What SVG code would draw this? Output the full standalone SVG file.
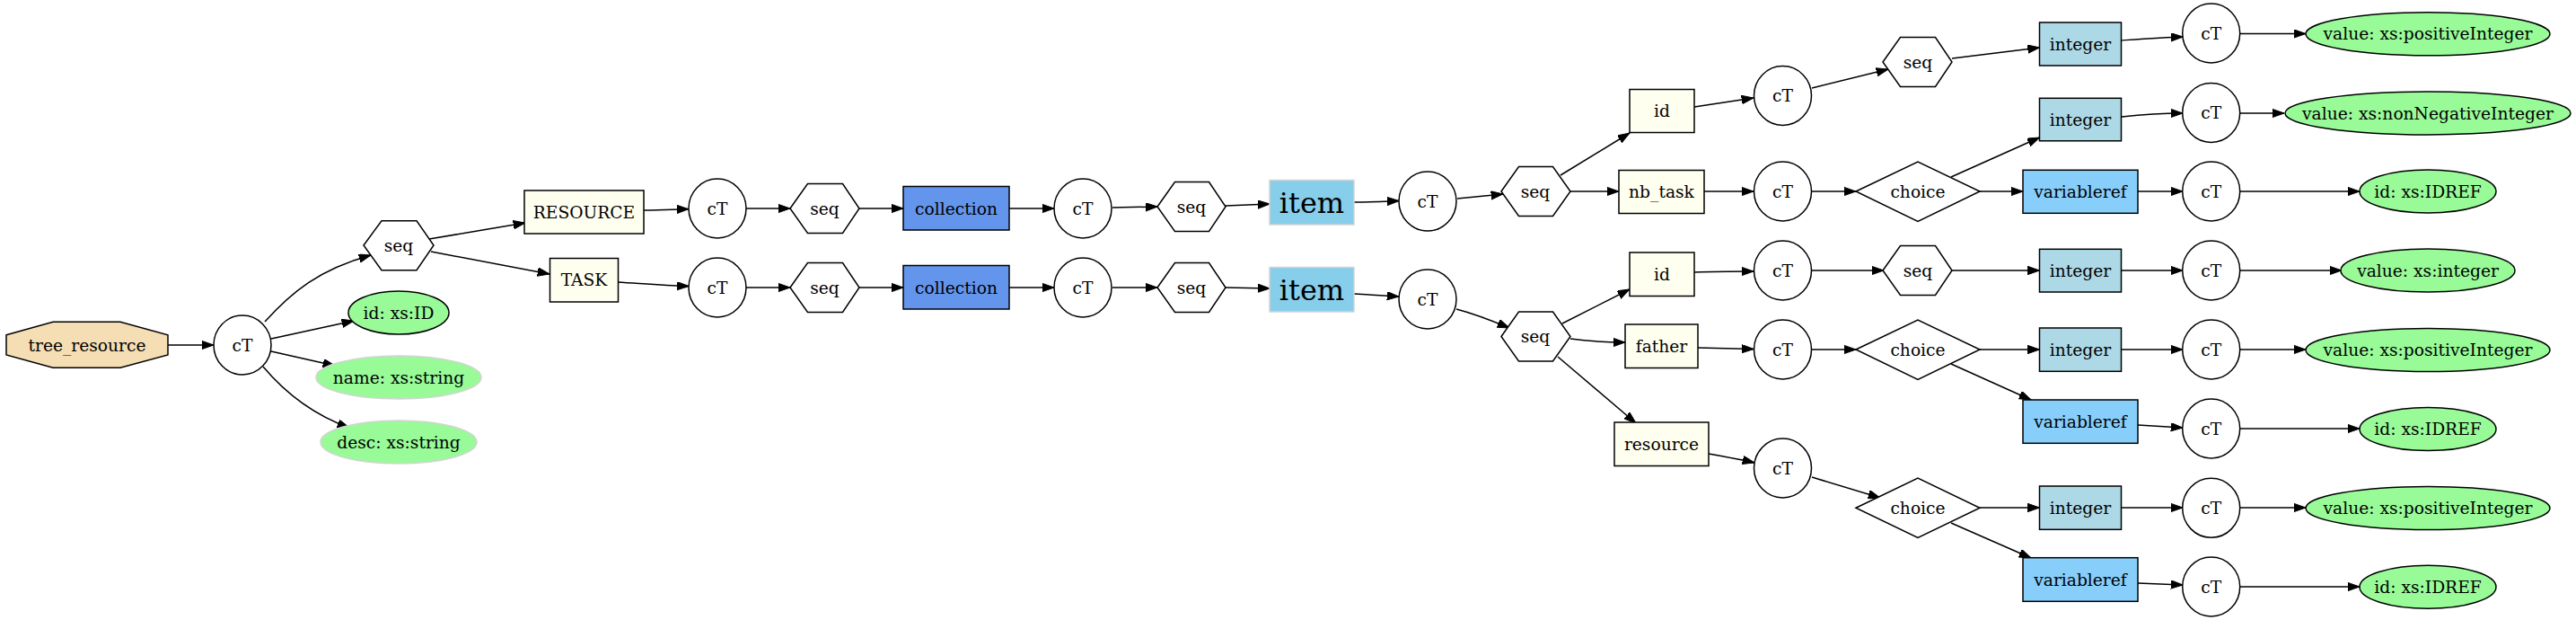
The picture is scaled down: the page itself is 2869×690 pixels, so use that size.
<svg xmlns="http://www.w3.org/2000/svg" width="2869" height="690" viewBox="0 0 2869 690">
<style>
text{font-family:"DejaVu Serif","Liberation Serif",serif;font-size:18.67px;text-anchor:middle;fill:#000}
.big{font-size:32px}
.n{stroke:#000;stroke-width:1.5}
.w{fill:#fff}
.wheat{fill:#f5deb3}
.ivory{fill:#fffff0}
.green{fill:#98fb98}
.greenl{fill:#98fb98;stroke:#d3d3d3;stroke-width:1.5}
.coll{fill:#6495ed}
.item{fill:#87ceeb;stroke:#d3d3d3;stroke-width:1.5}
.int{fill:#add8e6}
.vref{fill:#87cefa}
#edges path{fill:none;stroke:#000;stroke-width:1.5;marker-end:url(#arr)}
</style>
<defs>
<marker id="arr" markerUnits="userSpaceOnUse" markerWidth="14" markerHeight="10" refX="13.3" refY="4.7" orient="auto">
<path d="M0,0 L13.3,4.7 L0,9.4 z" fill="#000" stroke="#000" stroke-width="1"/>
</marker>
</defs>
<rect width="2869" height="690" fill="#fff"/>
<g id="edges">
<path d="M187,384 L238,384"/>
<path d="M295,358 C325,325 355,300 413,284"/>
<path d="M302,377 L394,357"/>
<path d="M302,391 L373,407"/>
<path d="M293,408 C320,440 350,462 389,476"/>
<path d="M478,266 L585,248"/>
<path d="M480,280 L612,305"/>
<path d="M717,234 C740,234 750,233 767,232.7"/>
<path d="M688,314 C720,316 745,318 767,318.5"/>
<path d="M831,232 L880,232"/>
<path d="M831,320 L880,320"/>
<path d="M957,232 L1006,232"/>
<path d="M957,320 L1006,320"/>
<path d="M1124,232 L1174,232"/>
<path d="M1124,320 L1174,320"/>
<path d="M1239,231 L1289,230"/>
<path d="M1239,320 L1289,320"/>
<path d="M1365,229 L1414,227"/>
<path d="M1365,320 L1414,321"/>
<path d="M1508,225 C1530,225 1545,224 1558,223.5"/>
<path d="M1508,327 L1558,330"/>
<path d="M1623,221 L1674,216"/>
<path d="M1738,195 L1815,148"/>
<path d="M1749,213 L1803,213"/>
<path d="M1887,119 L1953,109"/>
<path d="M1898,213 L1953,213"/>
<path d="M2018,98 L2103,77"/>
<path d="M2018,213 L2067,213"/>
<path d="M2174,65 L2271.5,53"/>
<path d="M2173,197 L2271.5,153"/>
<path d="M2205,213 L2253,213"/>
<path d="M2362,45 C2390,43 2410,41.5 2431,41"/>
<path d="M2363,130 C2390,127 2410,126 2431,126"/>
<path d="M2381,213 L2431,213"/>
<path d="M2495,37.5 L2568,37.5"/>
<path d="M2495,126 L2544,126"/>
<path d="M2495,213 L2628,213"/>
<path d="M1622,344 C1645,350 1662,357 1681,365"/>
<path d="M1740,360 L1815,322"/>
<path d="M1749,377 C1770,380 1790,381 1810,381"/>
<path d="M1735,397 L1822,471"/>
<path d="M1887,303 C1910,302 1930,302 1953,302"/>
<path d="M1891,387 L1953,388.5"/>
<path d="M1903,505 C1920,508 1937,511 1954,515"/>
<path d="M2018,301 L2098,301"/>
<path d="M2018,389 L2067,389"/>
<path d="M2018,531 L2094,554"/>
<path d="M2174,301 L2271.5,301"/>
<path d="M2205,389 L2271.5,389"/>
<path d="M2173,405 L2262,445"/>
<path d="M2205,565 L2271.5,565"/>
<path d="M2173,582 L2262,621"/>
<path d="M2362,301 L2431,301"/>
<path d="M2362,389 L2431,389"/>
<path d="M2381,473 L2431,476"/>
<path d="M2362,565 L2431,565"/>
<path d="M2381,649 L2431,651"/>
<path d="M2495,301 L2608,301"/>
<path d="M2495,389 L2568,389"/>
<path d="M2495,477 L2628,477"/>
<path d="M2495,565 L2568,565"/>
<path d="M2495,653 L2628,653"/>
</g>
<g id="n_tree_resource"><polygon class="n wheat" points="7,372.7 59,358.3 134,358.3 187,372.7 187,395 134,409.3 59,409.3 7,395"/><text x="97" y="390.5">tree_resource</text></g>
<g id="n_ct1"><ellipse class="n w" cx="270" cy="384" rx="32" ry="33"/><text x="270" y="390.5">cT</text></g>
<g id="n_seq1"><polygon class="n w" points="405,273 425,245.7 464,245.7 483,273 464,300.7 425,300.7"/><text x="444" y="279.5">seq</text></g>
<g id="n_attr_id"><ellipse class="n green" cx="444" cy="348" rx="56" ry="24"/><text x="444" y="354.5">id: xs:ID</text></g>
<g id="n_attr_name"><ellipse class="greenl" cx="444" cy="420" rx="92" ry="24"/><text x="444" y="426.5">name: xs:string</text></g>
<g id="n_attr_desc"><ellipse class="greenl" cx="444" cy="492" rx="87" ry="24"/><text x="444" y="498.5">desc: xs:string</text></g>
<g id="n_RESOURCE"><rect class="n ivory" x="584" y="212" width="133" height="48"/><text x="650.5" y="242.5">RESOURCE</text></g>
<g id="n_TASK"><rect class="n ivory" x="612.5" y="287.5" width="76" height="48.5"/><text x="650.5" y="318">TASK</text></g>
<g id="n_ct_r1"><ellipse class="n w" cx="799" cy="232" rx="32" ry="33"/><text x="799" y="238.5">cT</text></g>
<g id="n_ct_t1"><ellipse class="n w" cx="799" cy="320" rx="32" ry="33"/><text x="799" y="326.5">cT</text></g>
<g id="n_seq_r1"><polygon class="n w" points="880,232 899.5,204.5 938.5,204.5 957,232 938.5,259.5 899.5,259.5"/><text x="918.5" y="238.5">seq</text></g>
<g id="n_seq_t1"><polygon class="n w" points="880,320 899.5,292.5 938.5,292.5 957,320 938.5,347.5 899.5,347.5"/><text x="918.5" y="326.5">seq</text></g>
<g id="n_coll_r"><rect class="n coll" x="1006" y="207.5" width="118" height="48.5"/><text x="1065" y="238.5">collection</text></g>
<g id="n_coll_t"><rect class="n coll" x="1006" y="295.5" width="118" height="48.5"/><text x="1065" y="326.5">collection</text></g>
<g id="n_ct_r2"><ellipse class="n w" cx="1206" cy="232" rx="32" ry="33"/><text x="1206" y="238.5">cT</text></g>
<g id="n_ct_t2"><ellipse class="n w" cx="1206" cy="320" rx="32" ry="33"/><text x="1206" y="326.5">cT</text></g>
<g id="n_seq_r2"><polygon class="n w" points="1289,230 1308.5,202.5 1346.5,202.5 1365,230 1346.5,257.5 1308.5,257.5"/><text x="1327" y="236.5">seq</text></g>
<g id="n_seq_t2"><polygon class="n w" points="1289,320 1308.5,292.5 1346.5,292.5 1365,320 1346.5,347.5 1308.5,347.5"/><text x="1327" y="326.5">seq</text></g>
<g id="n_item_r"><rect class="item" x="1414" y="200.5" width="94" height="49.5"/><text class="big" x="1461" y="236.5">item</text></g>
<g id="n_item_t"><rect class="item" x="1414" y="297.5" width="94" height="49.5"/><text class="big" x="1461" y="333.5">item</text></g>
<g id="n_ct_r3"><ellipse class="n w" cx="1590" cy="224" rx="32" ry="33"/><text x="1590" y="230.5">cT</text></g>
<g id="n_ct_t3"><ellipse class="n w" cx="1590" cy="333" rx="32" ry="33"/><text x="1590" y="339.5">cT</text></g>
<g id="n_seq_r3"><polygon class="n w" points="1672,213 1691.5,185.5 1729.5,185.5 1749,213 1729.5,240.5 1691.5,240.5"/><text x="1710" y="219.5">seq</text></g>
<g id="n_seq_t3"><polygon class="n w" points="1672,374.5 1691.5,347 1729.5,347 1749,374.5 1729.5,402 1691.5,402"/><text x="1710" y="381">seq</text></g>
<g id="n_r_id"><rect class="n ivory" x="1815" y="99.5" width="72" height="48"/><text x="1851" y="130">id</text></g>
<g id="n_r_nb_task"><rect class="n ivory" x="1803" y="189.5" width="95" height="48"/><text x="1850.5" y="220">nb_task</text></g>
<g id="n_t_id"><rect class="n ivory" x="1815" y="281" width="72" height="48.5"/><text x="1851" y="311.5">id</text></g>
<g id="n_t_father"><rect class="n ivory" x="1810" y="361" width="81" height="48.5"/><text x="1850.5" y="391.5">father</text></g>
<g id="n_t_resource"><rect class="n ivory" x="1798" y="470" width="105" height="48.5"/><text x="1850.5" y="500.5">resource</text></g>
<g id="n_ct_a"><ellipse class="n w" cx="1985.5" cy="106.5" rx="32" ry="33"/><text x="1985.5" y="113">cT</text></g>
<g id="n_ct_b"><ellipse class="n w" cx="1985.5" cy="213" rx="32" ry="33"/><text x="1985.5" y="219.5">cT</text></g>
<g id="n_ct_c"><ellipse class="n w" cx="1985.5" cy="301" rx="32" ry="33"/><text x="1985.5" y="307.5">cT</text></g>
<g id="n_ct_d"><ellipse class="n w" cx="1985.5" cy="389" rx="32" ry="33"/><text x="1985.5" y="395.5">cT</text></g>
<g id="n_ct_e"><ellipse class="n w" cx="1985.5" cy="521" rx="32" ry="33"/><text x="1985.5" y="527.5">cT</text></g>
<g id="n_seq_a"><polygon class="n w" points="2097,69 2116.5,41.5 2155.5,41.5 2174,69 2155.5,96.5 2116.5,96.5"/><text x="2136" y="75.5">seq</text></g>
<g id="n_choice_b"><polygon class="n w" points="2067,213 2136,180 2205,213 2136,246.5"/><text x="2136" y="219.5">choice</text></g>
<g id="n_seq_c"><polygon class="n w" points="2097,301 2116.5,273.5 2155.5,273.5 2174,301 2155.5,328.5 2116.5,328.5"/><text x="2136" y="307.5">seq</text></g>
<g id="n_choice_d"><polygon class="n w" points="2067,389 2136,356 2205,389 2136,422.5"/><text x="2136" y="395.5">choice</text></g>
<g id="n_choice_e"><polygon class="n w" points="2067,565.3 2136,532 2205,565.3 2136,598.5"/><text x="2136" y="571.8">choice</text></g>
<g id="n_int_1"><rect class="n int" x="2271.5" y="25" width="91" height="48"/><text x="2317" y="55.5">integer</text></g>
<g id="n_int_2"><rect class="n int" x="2271.5" y="109.3" width="91" height="47.5"/><text x="2317" y="139.5">integer</text></g>
<g id="n_vref_3"><rect class="n vref" x="2253" y="189.3" width="128" height="48"/><text x="2317" y="219.8">variableref</text></g>
<g id="n_int_4"><rect class="n int" x="2271.5" y="277.3" width="91" height="47.7"/><text x="2317" y="307.5">integer</text></g>
<g id="n_int_5"><rect class="n int" x="2271.5" y="365" width="91" height="48.3"/><text x="2317" y="395.5">integer</text></g>
<g id="n_vref_6"><rect class="n vref" x="2253" y="445" width="128" height="48.3"/><text x="2317" y="475.5">variableref</text></g>
<g id="n_int_7"><rect class="n int" x="2271.5" y="541" width="91" height="48.3"/><text x="2317" y="571.5">integer</text></g>
<g id="n_vref_8"><rect class="n vref" x="2253" y="620.7" width="128" height="48.6"/><text x="2317" y="651.5">variableref</text></g>
<g id="n_ct_1"><ellipse class="n w" cx="2462.7" cy="37" rx="32" ry="33"/><text x="2462.7" y="43.5">cT</text></g>
<g id="n_ct_2"><ellipse class="n w" cx="2462.7" cy="125.5" rx="32" ry="33"/><text x="2462.7" y="132">cT</text></g>
<g id="n_ct_3"><ellipse class="n w" cx="2462.7" cy="213" rx="32" ry="33"/><text x="2462.7" y="219.5">cT</text></g>
<g id="n_ct_4"><ellipse class="n w" cx="2462.7" cy="301" rx="32" ry="33"/><text x="2462.7" y="307.5">cT</text></g>
<g id="n_ct_5"><ellipse class="n w" cx="2462.7" cy="389" rx="32" ry="33"/><text x="2462.7" y="395.5">cT</text></g>
<g id="n_ct_6"><ellipse class="n w" cx="2462.7" cy="477" rx="32" ry="33"/><text x="2462.7" y="483.5">cT</text></g>
<g id="n_ct_7"><ellipse class="n w" cx="2462.7" cy="565.3" rx="32" ry="33"/><text x="2462.7" y="571.8">cT</text></g>
<g id="n_ct_8"><ellipse class="n w" cx="2462.7" cy="653" rx="32" ry="33"/><text x="2462.7" y="659.5">cT</text></g>
<g id="n_val_1"><ellipse class="n green" cx="2704" cy="37.8" rx="136" ry="24"/><text x="2704" y="44.3">value: xs:positiveInteger</text></g>
<g id="n_val_2"><ellipse class="n green" cx="2704" cy="126" rx="159" ry="24"/><text x="2704" y="132.5">value: xs:nonNegativeInteger</text></g>
<g id="n_val_3"><ellipse class="n green" cx="2704" cy="213" rx="76" ry="24"/><text x="2704" y="219.5">id: xs:IDREF</text></g>
<g id="n_val_4"><ellipse class="n green" cx="2704" cy="301" rx="97" ry="24"/><text x="2704" y="307.5">value: xs:integer</text></g>
<g id="n_val_5"><ellipse class="n green" cx="2704" cy="389.5" rx="136" ry="24"/><text x="2704" y="396">value: xs:positiveInteger</text></g>
<g id="n_val_6"><ellipse class="n green" cx="2704" cy="477.5" rx="76" ry="24"/><text x="2704" y="484">id: xs:IDREF</text></g>
<g id="n_val_7"><ellipse class="n green" cx="2704" cy="565.5" rx="136" ry="24"/><text x="2704" y="572">value: xs:positiveInteger</text></g>
<g id="n_val_8"><ellipse class="n green" cx="2704" cy="653.3" rx="76" ry="24"/><text x="2704" y="659.8">id: xs:IDREF</text></g>
</svg>
